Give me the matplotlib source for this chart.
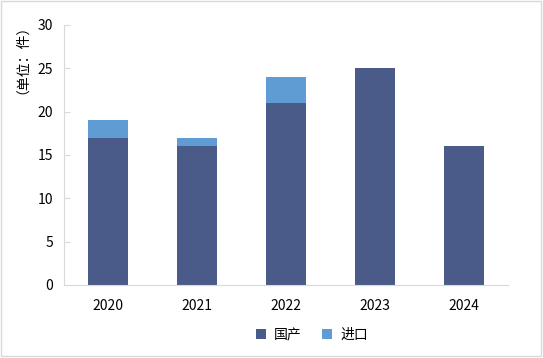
import matplotlib
matplotlib.use('Agg')
import matplotlib.pyplot as plt
from matplotlib.patches import Rectangle
import numpy as np

plt.rcParams['font.family'] = ['Noto Sans CJK SC', 'DejaVu Sans']

# data
years = ['2020', '2021', '2022', '2023', '2024']
domestic = [17, 16, 21, 25, 16]
imported = [2, 1, 3, 0, 0]

fig = plt.figure(figsize=(5.43, 3.58), dpi=100)
ax = fig.add_axes([64/543, 1-285/358, 444/543, 260/358])

x = np.arange(len(years))
ax.bar(x, domestic, width=0.45, color='#4A5B8A', label='国产')
ax.bar(x, imported, width=0.45, bottom=domestic, color='#5E9CD3', label='进口')

ax.set_xlim(-0.5, len(years) - 0.5)
ax.set_ylim(0, 30)
ax.set_yticks(range(0, 31, 5))
ax.set_xticks(x)
ax.set_xticklabels(years)
ax.tick_params(axis='y', direction='in', length=4, color='#D9D9D9', labelsize=10, pad=8)
ax.tick_params(axis='x', length=0, labelsize=10, pad=10)
for s in ['top', 'right']:
    ax.spines[s].set_visible(False)
for s in ['left', 'bottom']:
    ax.spines[s].set_color('#D9D9D9')

fig.text(15/543, 1-52/358, '（单位：件）', rotation=90, ha='center', va='center', fontsize=10)

fig.legend(loc='center', bbox_to_anchor=(312/543, 1-335/358), ncol=2, frameon=False,
           fontsize=10, handlelength=0.7, handleheight=0.7, columnspacing=1.5, handletextpad=0.6)

fig.patches.append(Rectangle((0.5/543, 2/358), 540/543, 355/358, transform=fig.transFigure,
                             fill=False, edgecolor='#D9D9D9', linewidth=1))

fig.savefig('out.png', dpi=100)
